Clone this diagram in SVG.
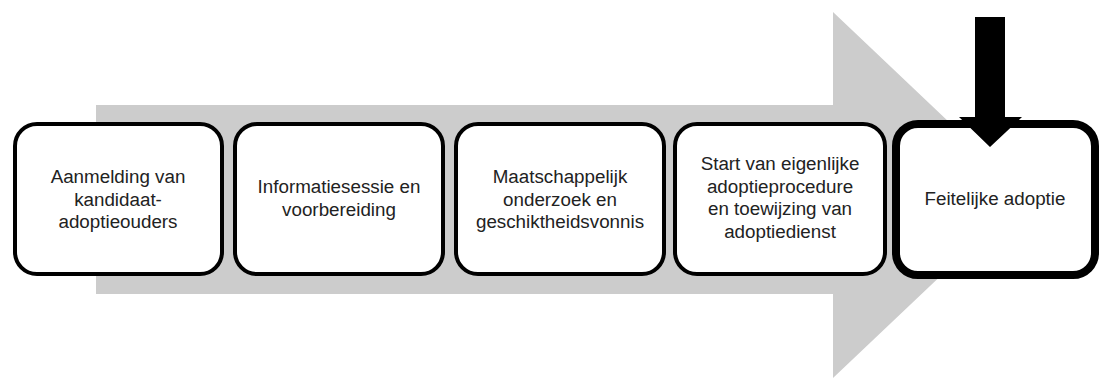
<svg xmlns="http://www.w3.org/2000/svg" width="1100" height="381" viewBox="0 0 1100 381">
<style>
.box{fill:#fff;stroke:#000;stroke-width:4}
.t{font-family:"Liberation Sans",Arial,sans-serif;font-size:18.8px;fill:#222;text-anchor:middle}
</style>
<rect width="1100" height="381" fill="#fff"/>
<g id="bigarrow"><polygon points="96,105 833,105 833,12 1026,195 833,378 833,294 96,294" fill="#cccccc"/></g>
<g id="n1"><rect class="box" x="15" y="124" width="207" height="150" rx="22"/>
<text class="t" x="118" y="183">Aanmelding van</text><text class="t" x="118" y="205.5">kandidaat-</text><text class="t" x="118" y="228">adoptieouders</text></g>
<g id="n2"><rect class="box" x="235" y="124" width="208" height="150" rx="22"/>
<text class="t" x="339" y="193">Informatiesessie en</text><text class="t" x="339" y="216">voorbereiding</text></g>
<g id="n3"><rect class="box" x="456" y="124" width="208" height="150" rx="22"/>
<text class="t" x="560" y="183">Maatschappelijk</text><text class="t" x="560" y="205.5">onderzoek en</text><text class="t" x="560" y="228">geschiktheidsvonnis</text></g>
<g id="n4"><rect class="box" x="675" y="124" width="210" height="150" rx="22"/>
<text class="t" x="780" y="170">Start van eigenlijke</text><text class="t" x="780" y="192.5">adoptieprocedure</text><text class="t" x="780" y="215">en toewijzing van</text><text class="t" x="780" y="237.5">adoptiedienst</text></g>
<g id="n5"><rect x="896" y="124" width="199" height="151" rx="22" fill="#fff" stroke="#000" stroke-width="8"/>
<text class="t" x="995" y="205">Feitelijke adoptie</text></g>
<g id="connectors"><polygon points="975,17 1005,17 1005,117 1022,117 990,147 959,117 975,117" fill="#000"/></g>
</svg>
